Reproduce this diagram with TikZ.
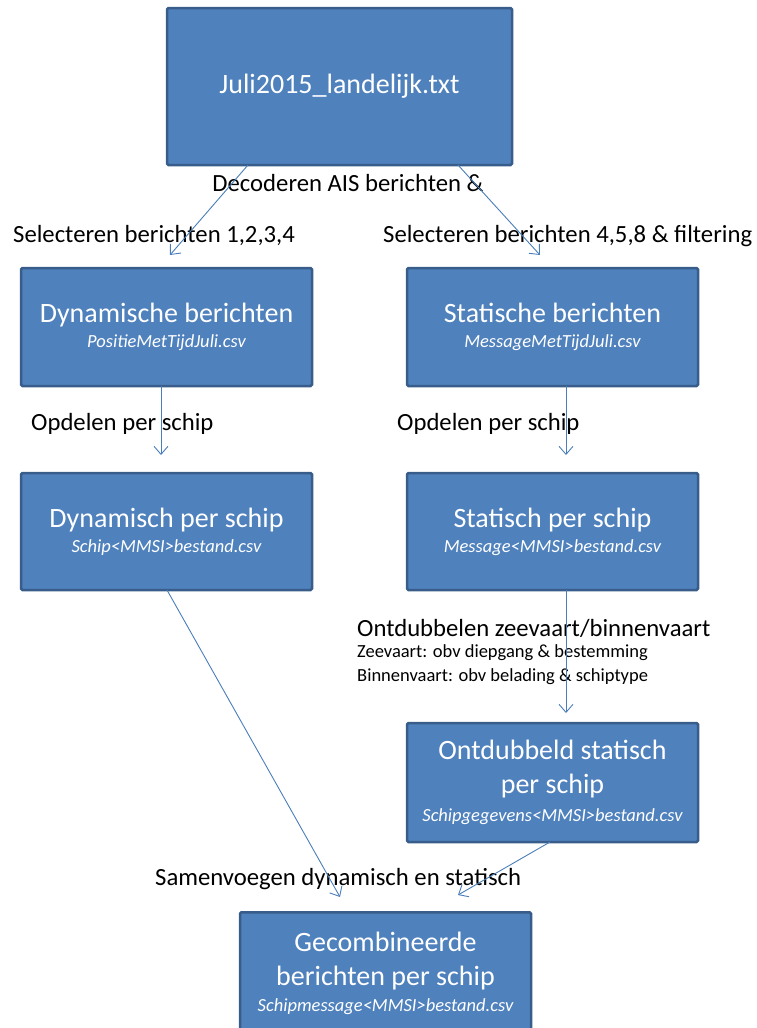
\documentclass[tikz,border=0pt]{standalone}
\usepackage{fontspec}
\setmainfont{Carlito}
\usetikzlibrary{arrows.meta}
\definecolor{boxfill}{HTML}{4F81BD}
\definecolor{boxedge}{HTML}{385D8A}
\definecolor{arrowc}{HTML}{4A7EBB}
\tikzset{
  box/.style={draw=boxedge, line width=2.5pt, fill=boxfill, rounded corners=1.5pt,
    text=white, align=center, inner sep=2pt, font=\fontsize{28}{34}\selectfont},
  lbl/.style={anchor=west, inner sep=0pt, font=\fontsize{24.7}{27}\selectfont, text=black},
  small/.style={anchor=west, inner sep=0pt, font=\fontsize{18.5}{20}\selectfont, text=black},
  arr/.style={draw=arrowc, line width=0.9pt, -{Straight Barb[length=8pt,width=14pt,line width=0.9pt]}}
}
\newcommand{\subt}[1]{{\fontsize{18.5}{22}\selectfont\itshape #1}}
\begin{document}
\begin{tikzpicture}[x=1pt,y=-1pt]
\useasboundingbox (0,0) rectangle (756,1028);
\node[box, minimum width=345pt, minimum height=157pt] (b1) at (339.5,86.5) {\raisebox{-2pt}{Juli2015\_landelijk.txt}};
\node[box, minimum width=291pt, minimum height=118pt] (b2) at (166.5,327) {Dynamische berichten\\[-9pt]\subt{PositieMetTijdJuli.csv}};
\node[box, minimum width=291pt, minimum height=118pt] (b3) at (552.5,327) {Statische berichten\\[-9pt]\subt{MessageMetTijdJuli.csv}};
\node[box, minimum width=291pt, minimum height=117pt] (b4) at (166.5,531.5) {Dynamisch per schip\\[-9pt]\subt{Schip<MMSI>bestand.csv}};
\node[box, minimum width=291pt, minimum height=117pt] (b5) at (552.5,531.5) {Statisch per schip\\[-9pt]\subt{Message<MMSI>bestand.csv}};
\node[box, minimum width=291pt, minimum height=119pt] (b6) at (552.5,782.5) {Ontdubbeld statisch\\per schip\\[-6pt]\subt{Schipgegevens<MMSI>bestand.csv}};
\node[box, minimum width=291pt, minimum height=122pt, anchor=north] (b7) at (385.5,911) {Gecombineerde\\berichten per schip\\[-8pt]\subt{Schipmessage<MMSI>bestand.csv}};
% labels
\node[anchor=center, inner sep=0pt, font=\fontsize{24.7}{27}\selectfont] (l1) at (348,183) {Decoderen AIS berichten \&};
\node[lbl] (l2) at (13,236) {Selecteren berichten 1,2,3,4};
\node[lbl] (l3) at (383,236) {Selecteren berichten 4,5,8 \& filtering};
\node[lbl] (l4) at (31,424) {Opdelen per schip};
\node[lbl] (l5) at (397,424) {Opdelen per schip};
\node[lbl] (l6) at (357,628) {Ontdubbelen zeevaart/binnenvaart};
\node[small] (l7) at (357,653) {Zeevaart: obv diepgang \& bestemming};
\node[small] (l8) at (357,677) {Binnenvaart: obv belading \& schiptype};
\node[lbl] (l9) at (155,879) {Samenvoegen dynamisch en statisch};
% connector endpoints
\coordinate (s1) at (248,165);
\coordinate (e1) at (170,255);
\coordinate (s2) at (458,165);
\coordinate (e2) at (540,255);
\coordinate (s3) at (161,386);
\coordinate (e3) at (161,455);
\coordinate (s4) at (566,386);
\coordinate (e4) at (566,455);
\coordinate (s5) at (566,590);
\coordinate (e5) at (566,713);
\coordinate (s6) at (167,590);
\coordinate (e6) at (340,897);
\coordinate (s7) at (550,842);
\coordinate (e7) at (458,895);
\draw[arr] (s1) -- (e1);
\draw[arr] (s2) -- (e2);
\draw[arr] (s3) -- (e3);
\draw[arr] (s4) -- (e4);
\draw[arr] (s5) -- (e5);
\draw[arr] (s6) -- (e6);
\draw[arr] (s7) -- (e7);
\end{tikzpicture}
\end{document}
